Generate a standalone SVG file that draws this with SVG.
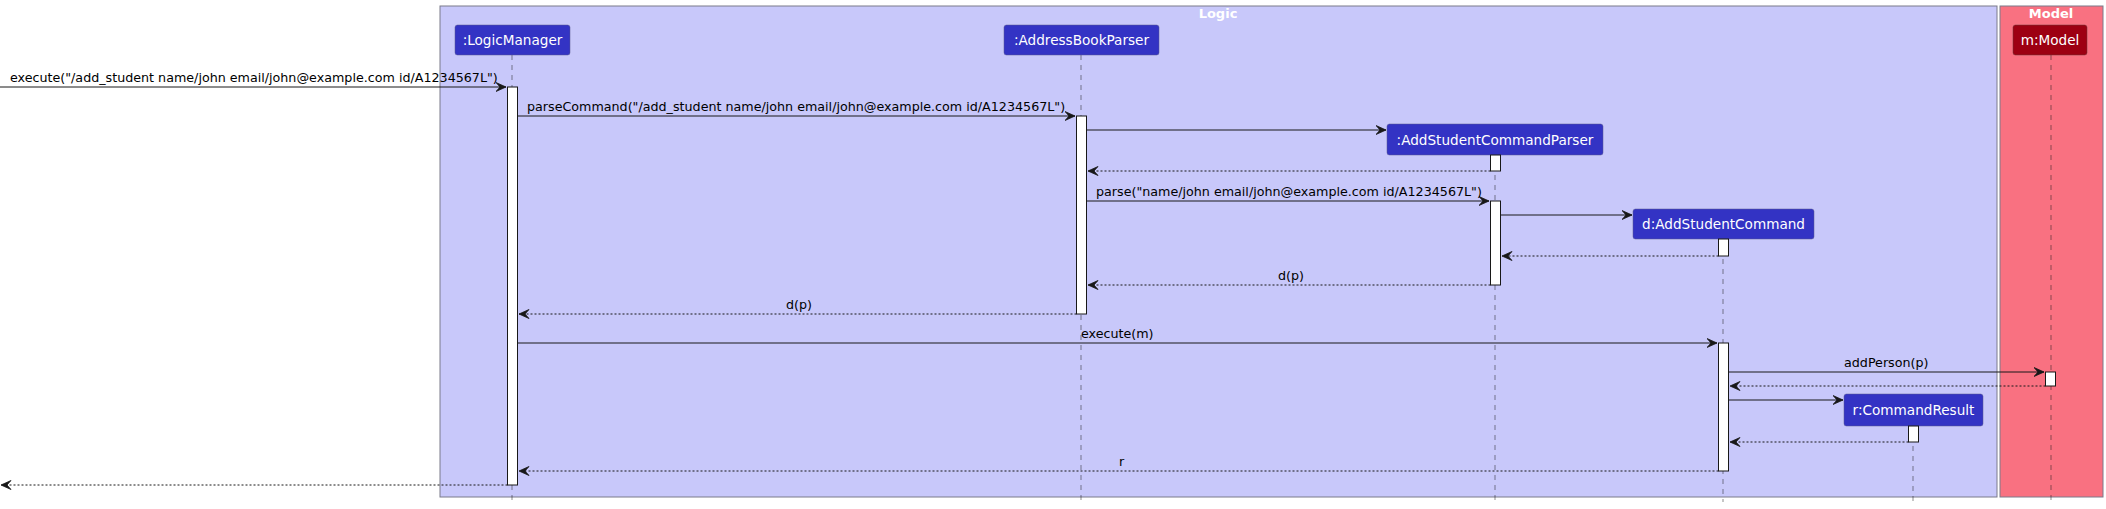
<svg xmlns="http://www.w3.org/2000/svg" width="2106" height="509" viewBox="0 0 2106 509">
<defs>
<style>
text{font-family:"DejaVu Sans",Verdana,sans-serif}
.msg{font-size:12.7px;fill:#000}
.pt{font-size:13.6px;fill:#fff;text-anchor:middle}
.ttl{font-size:13px;font-weight:bold;fill:#fff;text-anchor:middle}
.life{stroke:#181818;stroke-width:0.5;stroke-dasharray:5,5;fill:none}
.act{fill:#fff;stroke:#181818;stroke-width:1}
.lp{fill:#3333C4;stroke:#5A5A8C;stroke-width:0.5}
.mp{fill:#9D0012;stroke:#6A3A3A;stroke-width:0.5}
.sol{stroke:#181818;stroke-width:1;fill:none}
.dash{stroke:#181818;stroke-width:1;fill:none;stroke-dasharray:2,2}
</style>
<marker id="ah" markerWidth="13" markerHeight="11" refX="10.5" refY="5" orient="auto" markerUnits="userSpaceOnUse">
<polygon points="0.5,0.5 10.5,5 0.5,9.5 4.5,5" fill="#181818" stroke="#181818" stroke-width="0.8" stroke-linejoin="miter"/>
</marker>
</defs>
<rect width="2106" height="509" fill="#fff"/>
<g id="box-logic">
<rect x="440" y="6" width="1557" height="491" fill="#C8C8FA" stroke="#7A7A8A" stroke-width="1"/>
<text class="ttl" x="1218" y="18">Logic</text>
</g>
<g id="box-model">
<rect x="2000" y="6" width="103" height="491" fill="#F97181" stroke="#7A7A8A" stroke-width="1"/>
<text class="ttl" x="2051" y="18">Model</text>
</g>
<g id="lifelines">
<line class="life" x1="512" y1="55" x2="512" y2="502"/>
<line class="life" x1="1081" y1="55" x2="1081" y2="502"/>
<line class="life" x1="1495" y1="155" x2="1495" y2="502"/>
<line class="life" x1="1723" y1="239" x2="1723" y2="502"/>
<line class="life" x1="1913" y1="426" x2="1913" y2="502"/>
<line class="life" x1="2051" y1="55" x2="2051" y2="502"/>
</g>
<g id="LogicManager">
<rect class="lp" x="455" y="25" width="115" height="30" rx="2.5"/>
<text class="pt" x="512.5" y="45">:LogicManager</text>
</g>
<g id="AddressBookParser">
<rect class="lp" x="1004" y="25" width="155" height="30" rx="2.5"/>
<text class="pt" x="1081.5" y="45">:AddressBookParser</text>
</g>
<g id="AddStudentCommandParser">
<rect class="lp" x="1387" y="124" width="216" height="31" rx="2.5"/>
<text class="pt" x="1495" y="145">:AddStudentCommandParser</text>
</g>
<g id="AddStudentCommand">
<rect class="lp" x="1633" y="209" width="181" height="30" rx="2.5"/>
<text class="pt" x="1723.5" y="229">d:AddStudentCommand</text>
</g>
<g id="CommandResult">
<rect class="lp" x="1844" y="394" width="139" height="32" rx="2.5"/>
<text class="pt" x="1913.5" y="415">r:CommandResult</text>
</g>
<g id="Model">
<rect class="mp" x="2013" y="25" width="74" height="30" rx="2.5"/>
<text class="pt" x="2050" y="45">m:Model</text>
</g>
<g id="activations">
<rect class="act" x="507.5" y="87" width="10" height="398"/>
<rect class="act" x="1076.5" y="116" width="10" height="198"/>
<rect class="act" x="1490.5" y="155" width="10" height="16"/>
<rect class="act" x="1490.5" y="201" width="10" height="84"/>
<rect class="act" x="1718.5" y="239" width="10" height="17"/>
<rect class="act" x="1718.5" y="343" width="10" height="128"/>
<rect class="act" x="2045.5" y="372" width="10" height="14"/>
<rect class="act" x="1908.5" y="426" width="10" height="16"/>
</g>
<g id="connectors">
<line class="sol" x1="0" y1="87" x2="506" y2="87" marker-end="url(#ah)"/>
<text class="msg" x="10" y="82">execute("/add_student name/john email/john@example.com id/A1234567L")</text>
<line class="sol" x1="517.5" y1="116" x2="1075" y2="116" marker-end="url(#ah)"/>
<text class="msg" x="527" y="111">parseCommand("/add_student name/john email/john@example.com id/A1234567L")</text>
<line class="sol" x1="1086.5" y1="130" x2="1386" y2="130" marker-end="url(#ah)"/>
<line class="dash" x1="1490.5" y1="171" x2="1088" y2="171" marker-end="url(#ah)"/>
<line class="sol" x1="1086.5" y1="201" x2="1489" y2="201" marker-end="url(#ah)"/>
<text class="msg" x="1096" y="196">parse("name/john email/john@example.com id/A1234567L")</text>
<line class="sol" x1="1500.5" y1="215" x2="1632" y2="215" marker-end="url(#ah)"/>
<line class="dash" x1="1718.5" y1="256" x2="1502" y2="256" marker-end="url(#ah)"/>
<line class="dash" x1="1490.5" y1="285" x2="1088" y2="285" marker-end="url(#ah)"/>
<text class="msg" x="1278" y="280">d(p)</text>
<line class="dash" x1="1076.5" y1="314" x2="519" y2="314" marker-end="url(#ah)"/>
<text class="msg" x="786" y="309">d(p)</text>
<line class="sol" x1="517.5" y1="343" x2="1717" y2="343" marker-end="url(#ah)"/>
<text class="msg" x="1081" y="338">execute(m)</text>
<line class="sol" x1="1728.5" y1="372" x2="2044" y2="372" marker-end="url(#ah)"/>
<text class="msg" x="1844" y="367">addPerson(p)</text>
<line class="dash" x1="2045.5" y1="386" x2="1730" y2="386" marker-end="url(#ah)"/>
<line class="sol" x1="1728.5" y1="400" x2="1843" y2="400" marker-end="url(#ah)"/>
<line class="dash" x1="1908.5" y1="442" x2="1730" y2="442" marker-end="url(#ah)"/>
<line class="dash" x1="1718.5" y1="471" x2="519" y2="471" marker-end="url(#ah)"/>
<text class="msg" x="1119" y="466">r</text>
<line class="dash" x1="507.5" y1="485" x2="1" y2="485" marker-end="url(#ah)"/>
</g>
</svg>
